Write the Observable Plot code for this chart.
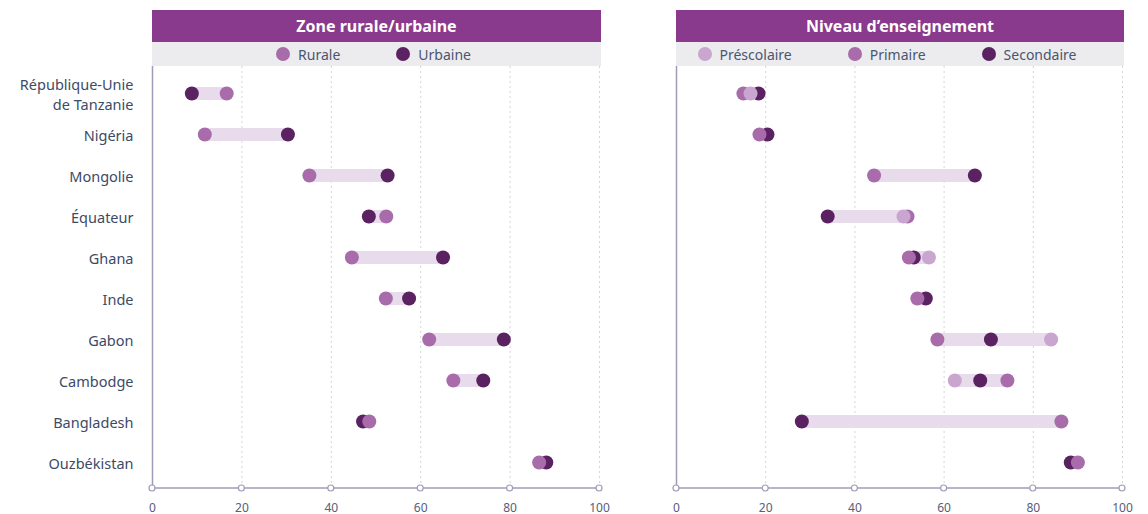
<!DOCTYPE html>
<html><head><meta charset="utf-8">
<script src="https://cdn.jsdelivr.net/npm/d3@7"></script>
<script src="https://cdn.jsdelivr.net/npm/@observablehq/plot@0.6"></script>
<style>
body{margin:0;background:#fff;font-family:"Noto Sans",sans-serif;}
#wrap{position:relative;width:1148px;height:514px;}
.hdr{position:absolute;top:10px;height:32px;background:#8a3a8c;color:#fff;font-weight:700;font-size:16px;display:flex;align-items:center;justify-content:center;}
.leg{position:absolute;top:42px;height:24px;background:#ececef;color:#4a5570;font-size:14px;display:flex;align-items:center;justify-content:center;gap:56px;box-sizing:border-box;}
.leg span.i{display:flex;align-items:center;gap:8px;}
.leg span.c{width:14px;height:14px;border-radius:50%;display:inline-block;}
</style></head>
<body><div id="wrap"></div>
<script>
const countries = ["République-Unie\nde Tanzanie","Nigéria","Mongolie","Équateur","Ghana","Inde","Gabon","Cambodge","Bangladesh","Ouzbékistan"];
const rurale     = [16.6, 11.7, 35.1, 52.3, 44.6, 52.2, 61.9, 67.3, 48.5, 86.5];
const urbaine    = [ 8.8, 30.3, 52.6, 48.4, 65.0, 57.4, 78.6, 74.0, 47.1, 88.1];
const prescolaire= [16.6, null, null, 50.9, 56.6, null, 84.0, 62.4, null, null];
const primaire   = [15.0, 18.6, 44.3, 51.8, 52.1, 54.0, 58.5, 74.2, 86.3, 90.0];
const secondaire = [18.4, 20.4, 66.9, 33.9, 53.2, 55.9, 70.5, 68.1, 28.1, 88.4];
const xTicks = [0, 20, 40, 60, 80, 100];

const C_LIGHT = "#c9a5cf", C_MID = "#a86cab", C_DARK = "#5b2262", C_BAR = "#e7dbec";
const AXIS = "#a09cb8";

const wrap = document.getElementById("wrap");

function panel({title, series, left, width, mLeft, mRight, showY, legPadR, legGap}) {
  const h = document.createElement("div");
  h.className = "hdr"; h.textContent = title;
  h.style.left = (left + mLeft) + "px"; h.style.width = (width - mLeft - mRight + 2) + "px";
  wrap.appendChild(h);
  const lg = document.createElement("div");
  lg.className = "leg";
  lg.style.left = (left + mLeft) + "px"; lg.style.width = (width - mLeft - mRight + 2) + "px";
  lg.style.paddingRight = legPadR + "px"; lg.style.gap = legGap + "px";
  for (const s of series) {
    const it = document.createElement("span"); it.className = "i";
    const c = document.createElement("span"); c.className = "c"; c.style.background = s.color;
    const t = document.createElement("span"); t.textContent = s.name;
    it.appendChild(c); it.appendChild(t); lg.appendChild(it);
  }
  wrap.appendChild(lg);

  const pts = [];
  for (const s of series) countries.forEach((c, i) => { if (s.values[i] != null) pts.push({country: c, value: s.values[i], name: s.name, color: s.color}); });
  const ranges = countries.map((c, i) => {
    const v = series.map(s => s.values[i]).filter(v => v != null);
    return {country: c, lo: d3.min(v), hi: d3.max(v)};
  });
  const ordered = [];
  for (const s of [...series].reverse()) for (const p of pts) if (p.name === s.name) ordered.push(p);

  const axisLine = (index, scales, values, dims) => {
    const {x} = scales;
    const y0 = dims.height - dims.marginBottom;
    const g = d3.create("svg:g");
    g.append("line").attr("x1", x(0)).attr("x2", x(100)).attr("y1", y0).attr("y2", y0).attr("stroke", AXIS).attr("stroke-width", 1.5);
    g.selectAll("circle").data(xTicks).join("circle").attr("cx", d => x(d)).attr("cy", y0).attr("r", 3)
      .attr("fill", "#fff").attr("stroke", AXIS).attr("stroke-width", 1.2);
    return g.node();
  };

  const p = Plot.plot({
    width, height: 448,
    marginLeft: mLeft, marginRight: mRight, marginTop: 0, marginBottom: 26,
    style: {fontFamily: "'Noto Sans', sans-serif", background: "transparent", overflow: "visible"},
    x: {domain: [0, 100], axis: null},
    y: {type: "point", domain: countries, range: [26, 396], padding: 0, axis: null},
    marks: [
      Plot.ruleX(xTicks.slice(1), {stroke: "#d4d4dc", strokeDasharray: "2,3", strokeWidth: 1}),
      Plot.ruleX([0], {stroke: AXIS, strokeWidth: 1.5}),
      Plot.ruleY(ranges, {y: "country", x1: "lo", x2: "hi", stroke: C_BAR, strokeWidth: 13}),
      Plot.dot(ordered, {x: "value", y: "country", r: 7, fill: d => d.color, stroke: null}),
      axisLine,
      Plot.axisX({ticks: xTicks, tickSize: 0, tickPadding: 15, fontSize: 12, color: "#55607a", label: null}),
      showY ? Plot.axisY({tickSize: 0, tickPadding: 19, fontSize: 14.5, color: "#3d4a66", label: null, lineHeight: 1.35}) : null
    ].filter(Boolean)
  });
  p.style.left = left + "px";
  p.style.position = "absolute";
  p.style.top = "66px";
  wrap.appendChild(p);
}

panel({title: "Zone rurale/urbaine", left: 0, width: 612, mLeft: 152, mRight: 13, showY: true, legPadR: 6, legGap: 56,
  series: [{name: "Rurale", values: rurale, color: C_MID}, {name: "Urbaine", values: urbaine, color: C_DARK}]});
panel({title: "Niveau d’enseignement", left: 620, width: 528, mLeft: 56, mRight: 26, showY: false, legPadR: 26, legGap: 56,
  series: [{name: "Préscolaire", values: prescolaire, color: C_LIGHT}, {name: "Primaire", values: primaire, color: C_MID}, {name: "Secondaire", values: secondaire, color: C_DARK}]});
</script>
</body></html>
